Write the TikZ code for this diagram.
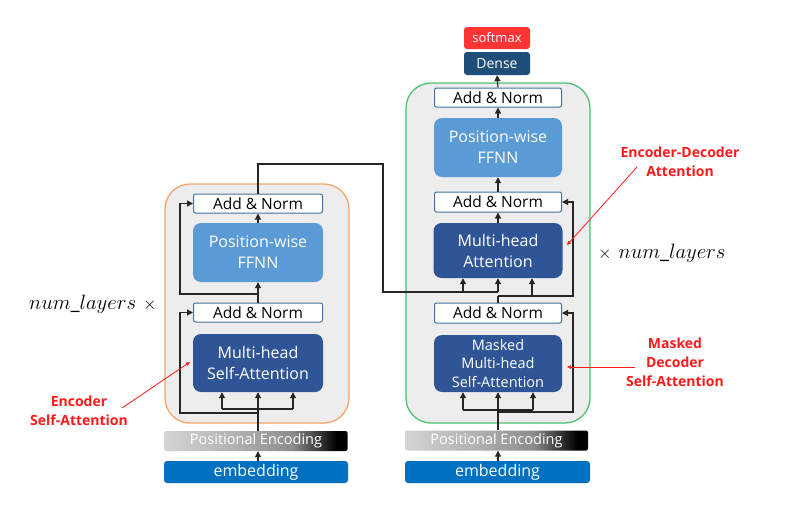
\documentclass[tikz,border=0pt]{standalone}
\usepackage{fontspec}
\setmainfont{Open Sans}
\usetikzlibrary{arrows.meta,calc}
\definecolor{boxbg}{HTML}{EDEDED}
\definecolor{orangec}{HTML}{F4A468}
\definecolor{greenc}{HTML}{4EC072}
\definecolor{anborder}{HTML}{41719C}
\definecolor{ffnncol}{HTML}{5B9BD5}
\definecolor{mhacol}{HTML}{2F5597}
\definecolor{densecol}{HTML}{1F4E79}
\definecolor{softcol}{HTML}{FF3535}
\definecolor{embcol}{HTML}{0070C0}
\definecolor{pelight}{HTML}{D4D4D4}
\definecolor{pemid}{HTML}{B0B0B0}
\definecolor{pemid2}{HTML}{8C8C8C}
\definecolor{redc}{HTML}{FF1A1A}
\pgfdeclarehorizontalshading{peshade}{100bp}{color(0bp)=(pelight); color(25bp)=(pelight); color(45bp)=(pemid); color(60bp)=(pemid2); color(72bp)=(black); color(100bp)=(black)}
\begin{document}
\begin{tikzpicture}[x=1pt,y=-1pt,
  container/.style={rounded corners=25pt, fill=boxbg, line width=1.3pt, inner sep=0pt},
  box/.style={rounded corners=8pt, minimum width=130pt, inner sep=0pt, align=center, text=white, font=\fontsize{16}{21}\selectfont},
  ffnn/.style={box, fill=ffnncol},
  mha/.style={box, fill=mhacol},
  addnorm/.style={draw=anborder, line width=1pt, fill=white, rounded corners=2pt, minimum width=129pt, minimum height=19pt, font=\fontsize{15.5}{15.5}\selectfont, inner sep=0pt},
  pe/.style={shade, shading=peshade, rounded corners=2pt, minimum height=20pt, inner sep=0pt, text=white, font=\fontsize{14.5}{14.5}\selectfont},
  emb/.style={fill=embcol, rounded corners=3pt, minimum height=22pt, inner sep=0pt, text=white, font=\fontsize{16}{16}\selectfont},
  topbox/.style={rounded corners=3pt, minimum width=66pt, inner sep=0pt, text=white},
  conn/.style={line width=1.1pt, draw=black!85},
  arr/.style={conn, -{Triangle[length=6pt,width=6pt]}},
  note/.style={text=redc, font=\bfseries\fontsize{14}{19}\selectfont, align=center},
  redarr/.style={draw=redc, line width=0.8pt, -{Triangle[length=4pt,width=3.5pt]}}
]
\useasboundingbox (0,0) rectangle (812,509);

% containers
\node[container, draw=orangec, minimum width=184pt, minimum height=239pt] (encbox) at (257,303.5) {};
\node[container, draw=greenc, minimum width=184pt, minimum height=340pt] (decbox) at (498,253) {};

% encoder
\node[addnorm] (eAN2) at (258,203.5) {Add \& Norm};
\node[ffnn, minimum height=59pt] (eFF) at (258,252.5) {Position-wise\\FFNN};
\node[addnorm] (eAN1) at (258,312.5) {Add \& Norm};
\node[mha, minimum height=58pt] (eMHA) at (258,363) {Multi-head\\Self-Attention};
\node[pe, minimum width=183pt] (ePE) at (256,441) {Positional Encoding};
\node[emb, minimum width=184pt] (eEmb) at (256,472) {embedding};

% decoder
\node[topbox, fill=softcol, minimum height=22pt, font=\fontsize{13}{13}\selectfont] (soft) at (497,38) {softmax};
\node[topbox, fill=densecol, minimum height=23pt, font=\fontsize{14}{14}\selectfont] (dense) at (497,63.5) {Dense};
\node[addnorm, minimum width=127pt] (dAN3) at (498,97.5) {Add \& Norm};
\node[ffnn, minimum width=128pt, minimum height=59pt] (dFF) at (498,147.5) {Position-wise\\FFNN};
\node[addnorm, minimum width=127pt, minimum height=20pt] (dAN2) at (498,202) {Add \& Norm};
\node[mha, minimum width=129pt, minimum height=55pt] (dMHA2) at (498,250.5) {Multi-head\\Attention};
\node[addnorm, minimum width=127pt, minimum height=20pt] (dAN1) at (498,313) {Add \& Norm};
\node[mha, minimum width=128pt, minimum height=57pt, font=\fontsize{14.5}{18.5}\selectfont] (dMHA1) at (498,363.5) {Masked\\Multi-head\\Self-Attention};
\node[pe, minimum width=183pt] (dPE) at (496.5,440.5) {Positional Encoding};
\node[emb, minimum width=185pt] (dEmb) at (497.5,472) {embedding};

% encoder connectors
\draw[arr] (eEmb.north -| eMHA.south) -- (ePE.south -| eMHA.south);
\draw[arr] (ePE.north -| eMHA.south) -- (eMHA.south);
\coordinate (eIn) at (258,409);
\draw[conn] ($(eIn)+(-36,0)$) -- ($(eIn)+(35,0)$);
\draw[arr] ($(eIn)+(-36,0)$) -- ($(eMHA.south)+(-36,0)$);
\draw[arr] ($(eIn)+(35,0)$) -- ($(eMHA.south)+(35,0)$);
\coordinate (eR1) at (258,413);
\draw[arr] (eR1) -- ++(-78,0) |- (eAN1.west);
\draw[arr] (eAN1.north) -- (eFF.south);
\coordinate (eR2) at (258,294);
\draw[arr] (eR2) -- ++(-78,0) |- (eAN2.west);
\draw[arr] (eFF.north) -- (eAN2.south);

% encoder output to decoder
\coordinate (eTop) at (258,164);
\coordinate (kvTurn) at (383,164);
\coordinate (kvIn) at (383,292);
\draw[conn] (eAN2.north) -- (eTop) -- (kvTurn) -- (kvIn) -- (dMHA2.south |- kvIn);
\draw[arr] ($(dMHA2.south |- kvIn)+(-35,0)$) -- ($(dMHA2.south)+(-35,0)$);
\draw[arr] (dMHA2.south |- kvIn) -- (dMHA2.south);

% decoder connectors
\draw[arr] (dEmb.north -| dMHA1.south) -- (dPE.south -| dMHA1.south);
\draw[arr] (dPE.north -| dMHA1.south) -- (dMHA1.south);
\coordinate (dIn) at (498,410);
\draw[conn] ($(dIn)+(-35,0)$) -- ($(dIn)+(35,0)$);
\draw[arr] ($(dIn)+(-35,0)$) -- ($(dMHA1.south)+(-35,0)$);
\draw[arr] ($(dIn)+(35,0)$) -- ($(dMHA1.south)+(35,0)$);
\coordinate (dR1) at (498,412);
\draw[arr] (dR1) -- ++(75,0) |- (dAN1.east);
\coordinate (dQ) at (498,296);
\draw[conn] (dAN1.north) -- (dQ);
\draw[arr] ($(dQ)+(34,0)$) -- ($(dMHA2.south)+(34,0)$);
\draw[arr] (dQ) -- ++(75,0) |- (dAN2.east);
\draw[arr] (dMHA2.north) -- (dAN2.south);
\draw[arr] (dAN2.north) -- (dFF.south);
\draw[arr] (dFF.north) -- (dAN3.south);
\draw[arr] (dAN3.north) -- (dense.south);

% num_layers labels
\node[anchor=base west, inner sep=0pt] (nlL) at (29,309) {{\fontsize{20}{24}\selectfont$num\_layers$}\hspace{7pt}{\fontsize{16}{16}\selectfont$\times$}};
\node[anchor=base west, inner sep=0pt] (nlR) at (598,258) {{\fontsize{16}{16}\selectfont$\times$}\hspace{7pt}{\fontsize{20}{24}\selectfont$num\_layers$}};

% red annotations
\node[note] (lEnc) at (79,411) {Encoder\\Self-Attention};
\coordinate (aEncS) at (122,408);
\coordinate (aEncE) at (190,362);
\draw[redarr] (aEncS) -- (aEncE);
\node[note] (lED) at (680,162) {Encoder-Decoder\\Attention};
\coordinate (aEDS) at (637,167);
\coordinate (aEDE) at (567,245);
\draw[redarr] (aEDS) -- (aEDE);
\node[note] (lMD) at (675,362) {Masked\\Decoder\\Self-Attention};
\coordinate (aMDS) at (635,367);
\coordinate (aMDE) at (567,367);
\draw[redarr] (aMDS) -- (aMDE);
\end{tikzpicture}
\end{document}
